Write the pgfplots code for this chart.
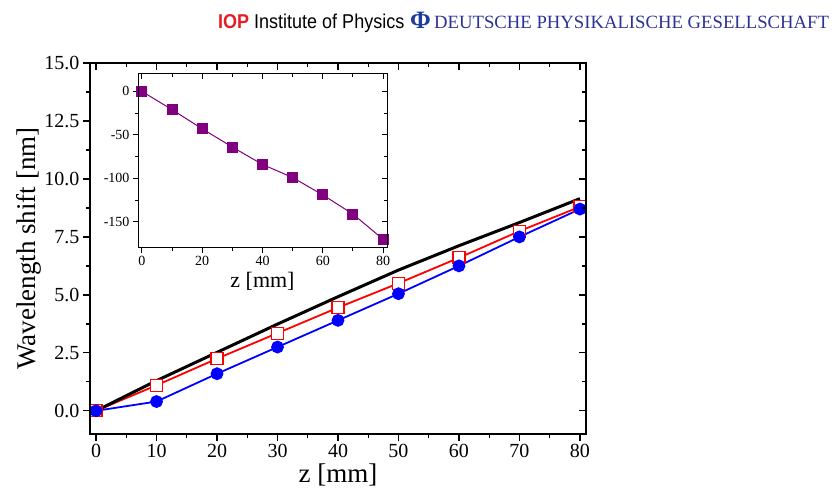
\documentclass[border=0pt]{standalone}
\usepackage{fontspec}
\setmainfont{Liberation Serif}
\newfontfamily\narrowsans[FakeStretch=0.9]{Liberation Sans}
\usepackage{pgfplots}
\pgfplotsset{compat=1.18}
\definecolor{iopred}{RGB}{228,30,38}
\definecolor{dpgblue}{RGB}{45,50,150}
\definecolor{phiblue}{RGB}{30,60,160}
\definecolor{purp}{RGB}{128,0,128}
\pgfplotsset{
  mainax/.style={at={(90pt,58pt)}, anchor=south west, scale only axis,
    width=496pt, height=371pt, xmin=-1, xmax=81, ymin=-1, ymax=15,
    xtick={0,10,...,80}, ytick={0,2.5,...,15},
    minor x tick num=1, minor y tick num=1,
    axis line style={line width=1.6pt},
    major tick length=7pt, minor tick length=4pt,
    every tick/.style={black, line width=1.3pt},
    /pgf/number format/assume math mode=true},
  insetax/.style={at={(138pt,244pt)}, anchor=south west, scale only axis,
    width=249pt, height=174pt, xmin=-1.3, xmax=81.3, ymin=-180, ymax=20,
    xtick={0,20,...,80}, ytick={-150,-100,-50,0},
    minor x tick num=1, minor y tick num=1,
    axis line style={line width=1pt},
    major tick length=5pt, minor tick length=3pt,
    every tick/.style={black, line width=0.9pt},
    /pgf/number format/assume math mode=true}
}
\begin{document}
\begin{tikzpicture}
\useasboundingbox (0,0) rectangle (838pt,492pt);
% header
\node[anchor=base west, inner sep=0] at (218pt,463pt) {\narrowsans\fontsize{20}{22}\selectfont\textcolor{iopred}{\bfseries IOP} Institute of Physics};
\node[anchor=base west, inner sep=0] at (410pt,463pt) {\fontsize{25}{28}\selectfont\bfseries\textcolor{phiblue}{Φ}};
\node[anchor=base west, inner sep=0] at (434pt,463pt) {\fontsize{18.7}{22}\selectfont\textcolor{dpgblue}{DEUTSCHE PHYSIKALISCHE GESELLSCHAFT}};
% main axis
\begin{axis}[mainax, tick align=outside, xtick pos=left, ytick pos=left,
  yticklabel style={/pgf/number format/.cd, fixed, fixed zerofill, precision=1},
  tick label style={font=\fontsize{20}{24}\selectfont},
  label style={font=\fontsize{27}{30}\selectfont},
  xlabel={z [mm]}, ylabel={Wavelength shift [nm]},
  xlabel style={yshift=1pt}, ylabel style={yshift=-4pt}]
\addplot[red, line width=1.8pt, mark=square*, mark size=6pt,
  mark options={fill=white, draw=red, line width=1.2pt}]
  coordinates {(0,0) (10,1.1) (20,2.25) (30,3.35) (40,4.45) (50,5.5) (60,6.6) (70,7.75) (80,8.8)};
\addplot[blue, line width=1.8pt, mark=*, mark size=5.5pt,
  mark options={fill=blue, draw=blue}]
  coordinates {(0,0) (10,0.4) (20,1.6) (30,2.75) (40,3.9) (50,5.05) (60,6.25) (70,7.5) (80,8.7)};
\addplot[black, line width=3pt, mark=none]
  coordinates {(0,0) (10,1.3) (20,2.52) (30,3.74) (40,4.92) (50,6.07) (60,7.12) (70,8.12) (80,9.15)};
\end{axis}
\begin{axis}[mainax, tick align=inside, xtick pos=right, ytick pos=right,
  xticklabels={}, yticklabels={}]
\end{axis}
% inset
\begin{axis}[insetax, tick align=outside, xtick pos=left, ytick pos=left,
  axis background/.style={fill=white},
  tick label style={font=\fontsize{14}{16}\selectfont},
  label style={font=\fontsize{22}{24}\selectfont},
  xlabel={z [mm]}, xlabel style={yshift=1pt}]
\addplot[purp, line width=1pt, mark=square*, mark size=5pt,
  mark options={fill=purp, draw=purp}]
  coordinates {(0,0) (10,-21) (20,-43) (30,-64) (40,-84) (50,-99) (60,-119) (70,-141) (80,-170)};
\end{axis}
\begin{axis}[insetax, tick align=inside, xtick pos=right, ytick pos=right,
  xticklabels={}, yticklabels={}]
\end{axis}
\end{tikzpicture}
\end{document}
